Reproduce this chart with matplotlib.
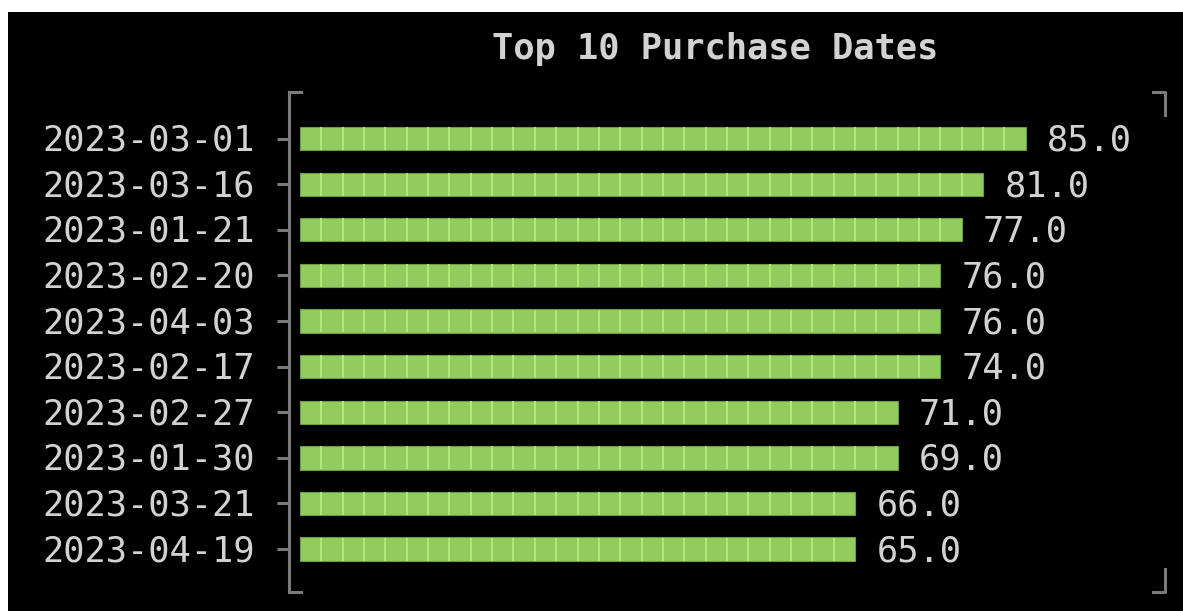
import numpy as np
import matplotlib.pyplot as plt
from matplotlib.patches import Rectangle
from matplotlib.transforms import ScaledTranslation, blended_transform_factory

dates = ['2023-03-01', '2023-03-16', '2023-01-21', '2023-02-20', '2023-04-03',
         '2023-02-17', '2023-02-27', '2023-01-30', '2023-03-21', '2023-04-19']
counts = [85.0, 81.0, 77.0, 76.0, 76.0, 74.0, 71.0, 69.0, 66.0, 65.0]
title = 'Top 10 Purchase Dates'

W, H = 1183, 611
bar_col = '#93cc5e'
cell_col = '#b3ec78'
txt_col = '#d2d2d2'
axis_col = '#7a7a7a'
cell = 2.5  # terminal cell width in data units
fs = 25.5

plt.rcParams['font.family'] = ['DejaVu Sans Mono']

fig = plt.figure(figsize=(W / 100, H / 100), dpi=100)
fig.patch.set_facecolor('white')
fig.add_artist(Rectangle((8 / W, 0), 1, (H - 12) / H, transform=fig.transFigure,
                         facecolor='black', edgecolor='none', zorder=0))

ax = fig.add_axes([289 / W, 1 - 592 / H, (1165 - 289) / W, (592 - 92) / H])
ax.set_facecolor('none')

y = np.arange(len(dates))
# terminal renderer snaps bar length to whole cells
widths = np.round(np.array(counts) / cell) * cell
ax.barh(y, widths, height=0.51, color=bar_col, edgecolor='#6f9a46', linewidth=0.8, zorder=2)

# cell separators inside each bar
for yi, w in zip(y, widths):
    xs = np.arange(cell, w - 0.01, cell)
    ax.vlines(xs, yi - 0.25, yi + 0.25, color=cell_col, linewidth=1.3, zorder=3)

down = ScaledTranslation(0, -12 / 100, fig.dpi_scale_trans)
for yi, w, v in zip(y, widths, counts):
    ax.text(w + cell, yi, f'{v:.1f}', color=txt_col, fontsize=fs, va='baseline', ha='left',
            transform=ax.transData + down)

# y labels drawn as text so they sit on a baseline like terminal rows
lab_tr = blended_transform_factory(ax.transAxes, ax.transData) + \
    ScaledTranslation(-34 / 100, -12 / 100, fig.dpi_scale_trans)
for yi, d in zip(y, dates):
    ax.text(0, yi, d, color=txt_col, fontsize=fs, va='baseline', ha='right',
            transform=lab_tr, clip_on=False)

ax.set_xlim(-1.29, 101.3)
ax.set_ylim(9.94, -1.02)
ax.set_yticks(y)
ax.set_yticklabels([])
ax.set_xticks([])
ax.tick_params(axis='y', colors=axis_col, length=8.5, width=2.2)
for s in ['top', 'right', 'bottom']:
    ax.spines[s].set_visible(False)
ax.spines['left'].set_color(axis_col)
ax.spines['left'].set_linewidth(2.2)

# bracket corners
kw = dict(transform=ax.transAxes, color=axis_col, linewidth=2.2, clip_on=False,
          solid_capstyle='projecting')
sx = 12 / (1165 - 289)
sy = 23 / (592 - 92)
ax.plot([0, sx], [1, 1], **kw)
ax.plot([0, sx], [0, 0], **kw)
ax.plot([1 - sx, 1, 1], [1, 1, 1 - sy], **kw)
ax.plot([1 - sx, 1, 1], [0, 0, sy], **kw)

fig.text(715 / W, 1 - 59 / H, title, color=txt_col, fontsize=fs, fontweight='bold',
         ha='center', va='baseline')

fig.savefig('out.png', dpi=100, facecolor=fig.get_facecolor())
